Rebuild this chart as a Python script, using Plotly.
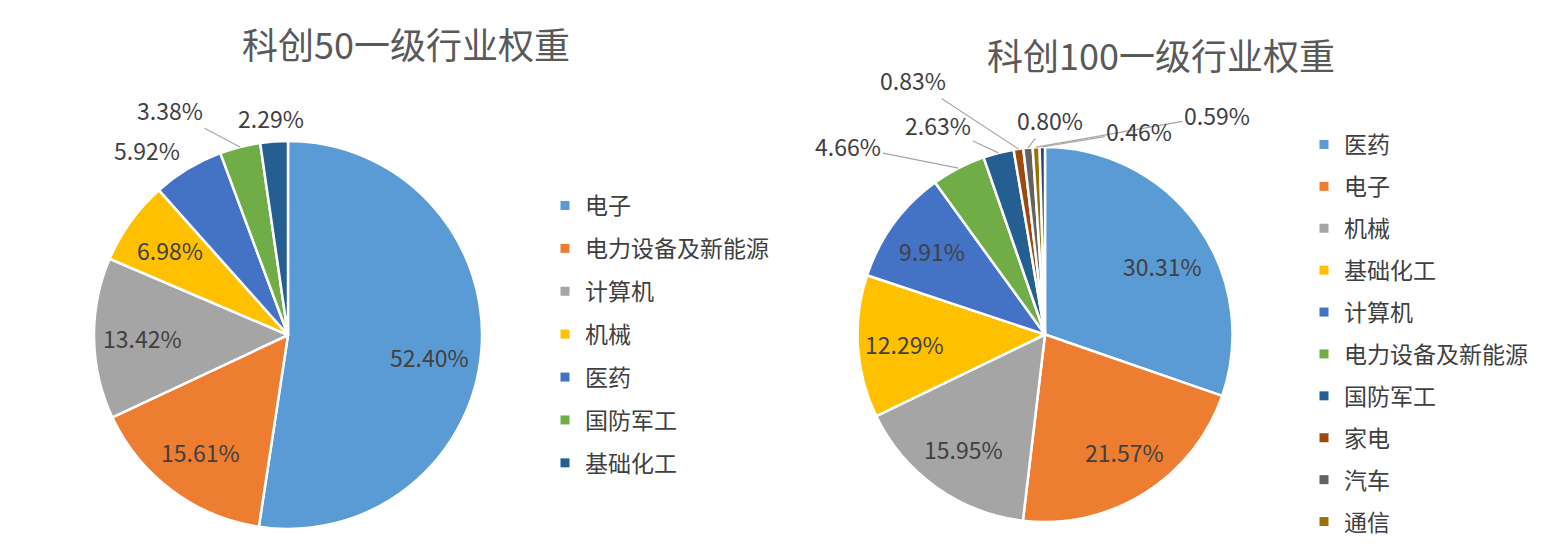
import math
import plotly.graph_objects as go

# ---- data ----
left_title = "科创50一级行业权重"
left_labels = ["电子", "电力设备及新能源", "计算机", "机械", "医药", "国防军工", "基础化工"]
left_values = [52.40, 15.61, 13.42, 6.98, 5.92, 3.38, 2.29]

right_title = "科创100一级行业权重"
right_labels = ["医药", "电子", "机械", "基础化工", "计算机", "电力设备及新能源",
                "国防军工", "家电", "汽车", "通信", "其他"]
right_values = [30.31, 21.57, 15.95, 12.29, 9.91, 4.66, 2.63, 0.83, 0.80, 0.59, 0.46]
right_legend_count = 10  # the original legend lists only the first ten

palette = ["#5B9BD5", "#ED7D31", "#A5A5A5", "#FFC000", "#4472C4", "#70AD47",
           "#255E91", "#9E480E", "#636363", "#997300", "#264478"]

# ---- style / layout ----
FONT = "Noto Sans CJK SC"
TXT = "#404040"
W, H = 1546, 555
LEFT_PIE = dict(cx=288, cy=335, r=194)
RIGHT_PIE = dict(cx=1045, cy=334.5, r=187.5)
LABEL_SIZE = 23
INSIDE_FRAC = 0.75  # data labels inside slices sit at this fraction of the radius

# small pixel nudges for some inside labels
left_nudge = {"电子": (-4, 11)}
right_nudge = {"医药": (3, 13), "电子": (5, -2)}

# outside labels: offset (px) of label centre from the slice's outer-edge midpoint, and leader flag
left_outside = {"医药": (-41, -19, False), "国防军工": (-70, -37, True), "基础化工": (-3, -24, False)}
right_outside = {"电力设备及新能源": (-110, -22, True), "国防军工": (-60, -28, True),
                 "家电": (-105, -69, True), "汽车": (22, -28, True),
                 "通信": (181, -32, True), "其他": (97, -16, True)}


def domain(p):
    return dict(x=[(p["cx"] - p["r"]) / W, (p["cx"] + p["r"]) / W],
                y=[(H - p["cy"] - p["r"]) / H, (H - p["cy"] + p["r"]) / H])


def pie_trace(labels, values, p):
    return go.Pie(
        labels=labels, values=values, sort=False, direction="clockwise", rotation=0,
        marker=dict(colors=palette[:len(values)], line=dict(color="white", width=2.5)),
        textinfo="none", showlegend=False, hoverinfo="label+value", domain=domain(p),
    )


def label_annotations(labels, values, p, outside, nudge):
    anns = []
    total = sum(values)
    cum = 0.0
    for lab, v in zip(labels, values):
        mid = (cum + v / 2) / total * 2 * math.pi
        cum += v
        sx, sy = math.sin(mid), -math.cos(mid)
        font = dict(family=FONT, size=LABEL_SIZE, color=TXT)
        if lab in outside:
            dx, dy, line = outside[lab]
            ex, ey = p["cx"] + p["r"] * sx, p["cy"] + p["r"] * sy
            anns.append(dict(
                x=ex / W, y=1 - ey / H, xref="paper", yref="paper",
                ax=dx, ay=dy, text="%.2f%%" % v, showarrow=True, arrowhead=0, standoff=0,
                arrowwidth=1.2, arrowcolor="#A6A6A6" if line else "rgba(0,0,0,0)", font=font,
            ))
        else:
            nx, ny = nudge.get(lab, (0, 0))
            ix = p["cx"] + INSIDE_FRAC * p["r"] * sx + nx
            iy = p["cy"] + INSIDE_FRAC * p["r"] * sy + ny
            anns.append(dict(
                x=ix / W, y=1 - iy / H, xref="paper", yref="paper", xanchor="center",
                yanchor="middle", text="%.2f%%" % v, showarrow=False, font=font,
            ))
    return anns


fig = go.Figure()
fig.add_trace(pie_trace(left_labels, left_values, LEFT_PIE))
fig.add_trace(pie_trace(right_labels, right_values, RIGHT_PIE))

# legend entries (square markers)
for i, lab in enumerate(left_labels):
    fig.add_trace(go.Scatter(x=[None], y=[None], mode="markers", name=lab,
                             marker=dict(symbol="square", size=9, color=palette[i]),
                             legend="legend", legendgroup="L%d" % i))
for i, lab in enumerate(right_labels[:right_legend_count]):
    fig.add_trace(go.Scatter(x=[None], y=[None], mode="markers", name=lab,
                             marker=dict(symbol="square", size=9, color=palette[i]),
                             legend="legend2", legendgroup="R%d" % i))

leg_common = dict(font=dict(family=FONT, size=23, color=TXT), bgcolor="rgba(0,0,0,0)",
                  itemwidth=30, xanchor="left", yanchor="top")

annotations = [
    dict(text=left_title, x=406 / W, y=1 - 43 / H, xref="paper", yref="paper",
         xanchor="center", yanchor="middle", showarrow=False,
         font=dict(family=FONT, size=36, color="#595959")),
    dict(text=right_title, x=1161 / W, y=1 - 54 / H, xref="paper", yref="paper",
         xanchor="center", yanchor="middle", showarrow=False,
         font=dict(family=FONT, size=36, color="#595959")),
]
annotations += label_annotations(left_labels, left_values, LEFT_PIE, left_outside, left_nudge)
annotations += label_annotations(right_labels, right_values, RIGHT_PIE, right_outside, right_nudge)

fig.update_layout(
    width=W, height=H, margin=dict(l=0, r=0, t=0, b=0, autoexpand=False),
    paper_bgcolor="white", plot_bgcolor="white",
    xaxis=dict(visible=False), yaxis=dict(visible=False),
    legend=dict(x=545 / W, y=1 - 184 / H, tracegroupgap=10, **leg_common),
    legend2=dict(x=1304 / W, y=1 - 123 / H, tracegroupgap=9, **leg_common),
    annotations=annotations,
)

fig.write_html("out.html", config={"displayModeBar": False},
               post_script="document.body.style.margin='0';")
